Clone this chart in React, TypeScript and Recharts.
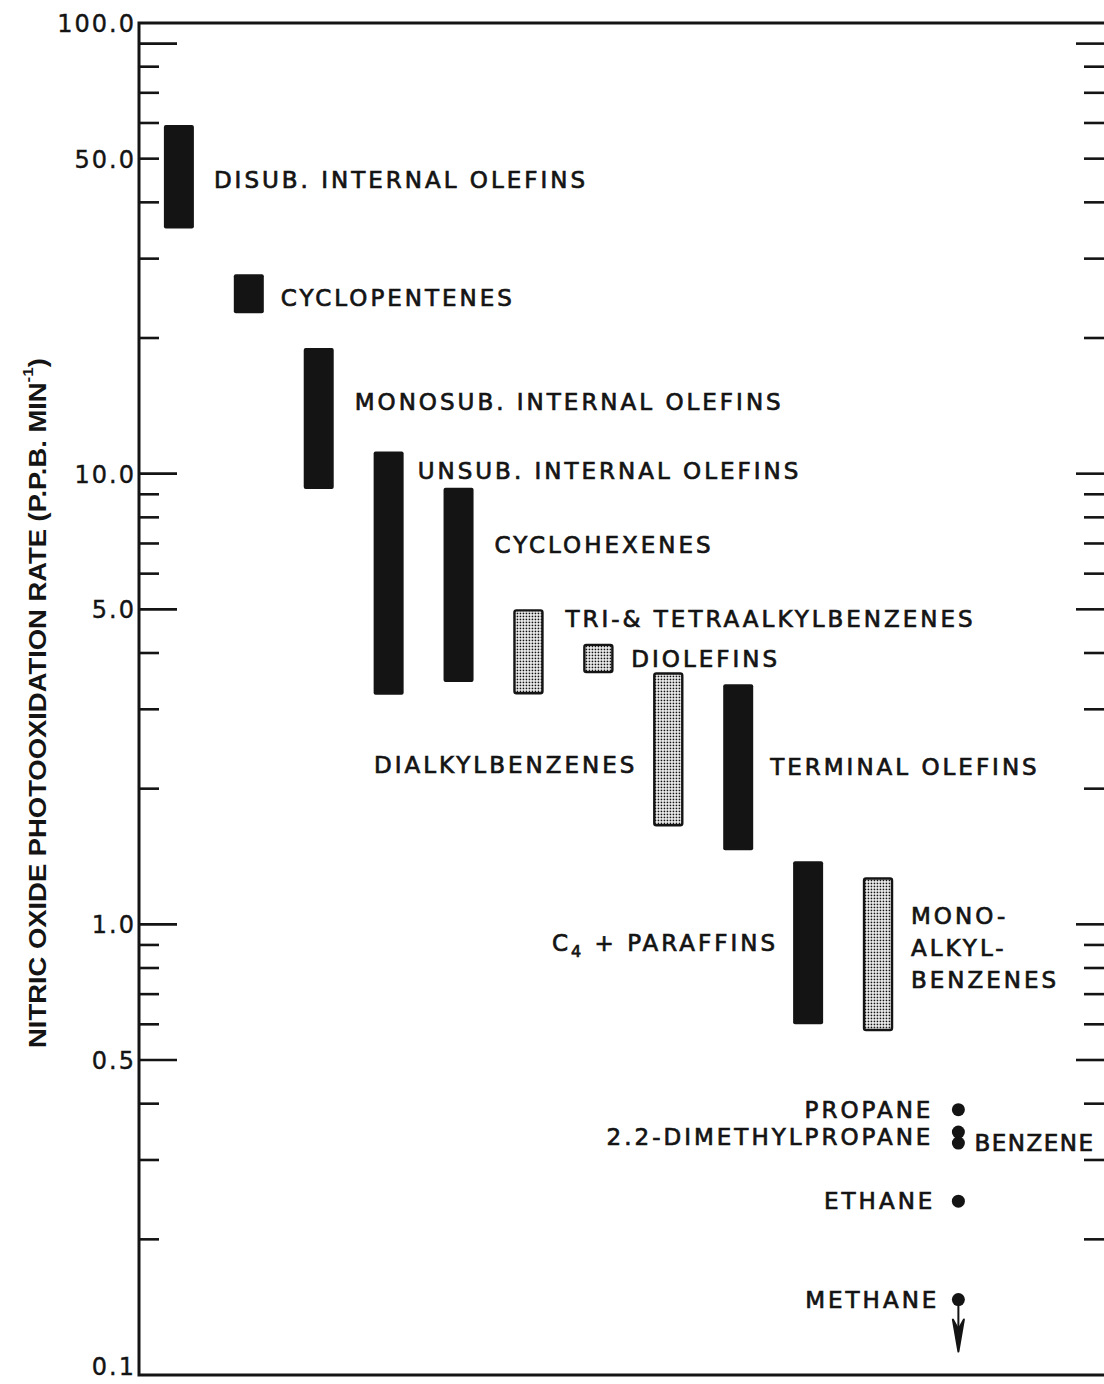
import React from 'react';
import { ComposedChart, Bar, Scatter, XAxis, YAxis, ReferenceArea } from 'recharts';

// Hydrocarbon classes: column position, rate range (p.p.b./min) and bar style
const groupNames = [
  'DISUB. INTERNAL OLEFINS',
  'CYCLOPENTENES',
  'MONOSUB. INTERNAL OLEFINS',
  'UNSUB. INTERNAL OLEFINS',
  'CYCLOHEXENES',
  'TRI-& TETRAALKYLBENZENES',
  'DIOLEFINS',
  'DIALKYLBENZENES',
  'TERMINAL OLEFINS',
  'C4 + PARAFFINS',
  'MONO-ALKYL-BENZENES',
];
const groupColumns = [1, 2, 3, 4, 5, 6, 7, 8, 9, 10, 11];
const groupLow = [35, 22.7, 9.25, 3.23, 3.45, 3.24, 3.61, 1.65, 1.46, 0.6, 0.58];
const groupHigh = [59.4, 27.7, 19.0, 11.2, 9.3, 5.0, 4.19, 3.62, 3.41, 1.38, 1.27];
const groupKinds = ['solid', 'solid', 'solid', 'solid', 'solid', 'dotted', 'dotted', 'dotted', 'solid', 'solid', 'dotted'];

// Individual compounds plotted as points
const compoundNames = ['PROPANE', '2.2-DIMETHYLPROPANE', 'BENZENE', 'ETHANE', 'METHANE'];
const compoundRates = [0.388, 0.346, 0.327, 0.243, 0.147];
const compoundUpperLimit = [false, false, false, false, true];
const compoundColumn = 12.15;

// Log axis ticks
const yTicks = [
  0.1, 0.2, 0.3, 0.4, 0.5, 0.6, 0.7, 0.8, 0.9,
  1, 2, 3, 4, 5, 6, 7, 8, 9,
  10, 20, 30, 40, 50, 60, 70, 80, 90, 100,
];
const yTickLabels: Record<string, string> = {
  '100': '100.0', '50': '50.0', '10': '10.0', '5': '5.0', '1': '1.0', '0.5': '0.5', '0.1': '0.1',
};
const longTicks = [90, 10, 5, 1, 0.5];

const X_DOMAIN: [number, number] = [0.43, 14.29];
const Y_DOMAIN: [number, number] = [0.1, 100];

const INK = '#141414';
const FONT = '"DejaVu Sans", sans-serif';
const LABEL_SIZE = 23;
const LABEL_SPACING = 3.0;

const labelStyle = {
  fontFamily: FONT,
  fontSize: LABEL_SIZE,
  letterSpacing: LABEL_SPACING,
  fill: INK,
  stroke: INK,
  strokeWidth: 0.7,
};

type Layout = { side: 'left' | 'right'; at: 'top' | 'center'; dx: number; dy: number; lines?: string[] };

const groupLabelLayout: Record<string, Layout> = {
  'DISUB. INTERNAL OLEFINS': { side: 'right', at: 'center', dx: 20, dy: 3 },
  'CYCLOPENTENES': { side: 'right', at: 'center', dx: 17, dy: 4 },
  'MONOSUB. INTERNAL OLEFINS': { side: 'right', at: 'center', dx: 21, dy: -16 },
  'UNSUB. INTERNAL OLEFINS': { side: 'right', at: 'top', dx: 14, dy: 20 },
  'CYCLOHEXENES': { side: 'right', at: 'top', dx: 21, dy: 57 },
  'TRI-& TETRAALKYLBENZENES': { side: 'right', at: 'top', dx: 22, dy: 10 },
  'DIOLEFINS': { side: 'right', at: 'center', dx: 18, dy: 0 },
  'DIALKYLBENZENES': { side: 'left', at: 'center', dx: 19, dy: 16 },
  'TERMINAL OLEFINS': { side: 'right', at: 'center', dx: 17, dy: 0 },
  'C4 + PARAFFINS': { side: 'left', at: 'center', dx: 18, dy: 0 },
  'MONO-ALKYL-BENZENES': { side: 'right', at: 'center', dx: 18, dy: -6, lines: ['MONO-', 'ALKYL-', 'BENZENES'] },
};

const compoundLabelLayout: Record<string, { side: 'left' | 'right'; dx: number; dy: number; spacing?: number }> = {
  'PROPANE': { side: 'left', dx: 28, dy: 0 },
  '2.2-DIMETHYLPROPANE': { side: 'left', dx: 28, dy: 5 },
  'BENZENE': { side: 'right', dx: 16, dy: 0, spacing: 1.5 },
  'ETHANE': { side: 'left', dx: 26, dy: 0 },
  'METHANE': { side: 'left', dx: 22, dy: 0 },
};

const groupRows = groupNames.map((name, i) => ({
  name,
  pos: groupColumns[i],
  range: [groupLow[i], groupHigh[i]],
  kind: groupKinds[i],
}));

const compoundRows = compoundNames.map((name, i) => ({
  name,
  pos: compoundColumn,
  rate: compoundRates[i],
  upperLimit: compoundUpperLimit[i],
}));

const labelText = (name: string) => {
  if (name.startsWith('C4')) {
    return [
      <tspan key="c">C</tspan>,
      <tspan key="s" dy={6} fontSize={16}>4</tspan>,
      <tspan key="r" dy={-6}>{name.slice(2)}</tspan>,
    ];
  }
  return name;
};

const GroupBar = (props: any) => {
  const { x, y, width, height, payload } = props;
  if (x == null || y == null) return null;
  const layout = groupLabelLayout[payload.name];
  const dotted = payload.kind === 'dotted';
  const anchorY = (layout.at === 'top' ? y : y + height / 2) + layout.dy;
  const tx = layout.side === 'right' ? x + width + layout.dx : x - layout.dx + LABEL_SPACING;
  const anchor = layout.side === 'right' ? 'start' : 'end';
  const lines = layout.lines;
  return (
    <g>
      <rect
        x={dotted ? x + 1 : x}
        y={dotted ? y + 1 : y}
        width={dotted ? width - 2 : width}
        height={dotted ? height - 2 : height}
        rx={2}
        fill={dotted ? 'url(#dotScreen)' : INK}
        stroke={dotted ? INK : 'none'}
        strokeWidth={2.4}
      />
      {lines ? (
        lines.map((ln, k) => (
          <text key={ln} x={tx} y={anchorY + (k - (lines.length - 1) / 2) * 32 + 8} textAnchor={anchor} {...labelStyle}>
            {ln}
          </text>
        ))
      ) : (
        <text x={tx} y={anchorY + 8} textAnchor={anchor} {...labelStyle}>
          {labelText(payload.name)}
        </text>
      )}
    </g>
  );
};

const CompoundPoint = (props: any) => {
  const { cx, cy, payload } = props;
  if (cx == null || cy == null) return null;
  const layout = compoundLabelLayout[payload.name];
  const spacing = layout.spacing ?? LABEL_SPACING;
  const tx = layout.side === 'right' ? cx + layout.dx : cx - layout.dx + spacing;
  return (
    <g>
      {payload.upperLimit && (
        <g stroke={INK} strokeWidth={2} fill={INK}>
          <line x1={cx} y1={cy} x2={cx} y2={cy + 48} />
          <path d={`M${cx - 5.5},${cy + 20} L${cx},${cy + 52} L${cx + 5.5},${cy + 20} L${cx},${cy + 30} Z`} strokeLinejoin="round" />
        </g>
      )}
      <circle cx={cx} cy={cy} r={6.5} fill={INK} />
      <text
        x={tx}
        y={cy + layout.dy + 8}
        textAnchor={layout.side === 'right' ? 'start' : 'end'}
        {...labelStyle}
        letterSpacing={spacing}
      >
        {payload.name}
      </text>
    </g>
  );
};

const LeftTick = (props: any) => {
  const { x, y, payload } = props;
  const v = payload.value;
  const label = yTickLabels[String(v)];
  const isEdge = v === 100 || v === 0.1;
  const len = longTicks.includes(v) ? 38 : 20;
  return (
    <g>
      {!isEdge && <line x1={x} y1={y} x2={x + len} y2={y} stroke={INK} strokeWidth={2.6} />}
      {label && (
        <text
          x={x - 3}
          y={y + (v === 0.1 ? 0 : 9)}
          textAnchor="end"
          fontFamily={FONT}
          fontSize={24}
          letterSpacing={2}
          fill={INK}
          stroke={INK}
          strokeWidth={0.4}
        >
          {label}
        </text>
      )}
    </g>
  );
};

const RightTick = (props: any) => {
  const { x, y, payload } = props;
  const v = payload.value;
  if (v === 100 || v === 0.1) return null;
  const len = longTicks.includes(v) ? 32 : 24;
  return <line x1={x} y1={y} x2={x - len} y2={y} stroke={INK} strokeWidth={2.6} />;
};

const AxisTitle = (props: any) => {
  const vb = props.viewBox || { x: 0, y: 0, width: 0, height: 0 };
  const cx = 37;
  const cy = vb.y + vb.height / 2 + 4;
  return (
    <text
      x={cx}
      y={cy}
      transform={`rotate(-90 ${cx} ${cy})`}
      textAnchor="middle"
      dominantBaseline="central"
      fontFamily='"Liberation Sans", Arial, sans-serif'
      fontWeight="bold"
      fontSize={24}
      textLength={690}
      lengthAdjust="spacingAndGlyphs"
      fill={INK}
    >
      NITRIC OXIDE PHOTOOXIDATION RATE (P.P.B. MIN
      <tspan dy={-10} fontSize={15}>-1</tspan>
      <tspan dy={10}>)</tspan>
    </text>
  );
};

export default function App() {
  return (
    <div style={{ position: 'fixed', left: 0, top: 0, width: 1104, height: 1384, overflow: 'hidden', background: '#fff' }}>
      <ComposedChart
        width={1130}
        height={1384}
        data={groupRows}
        margin={{ top: 23, right: 0, bottom: 9, left: 0 }}
      >
        <defs>
          <pattern id="dotScreen" patternUnits="userSpaceOnUse" width={3} height={3}>
            <rect x={0} y={0} width={3} height={3} fill="#fff" />
            <rect x={0.6} y={0.6} width={1.7} height={1.7} fill="#111" />
          </pattern>
        </defs>
        <XAxis dataKey="pos" type="number" domain={X_DOMAIN} allowDataOverflow hide />
        <YAxis
          yAxisId="left"
          type="number"
          scale="log"
          domain={Y_DOMAIN}
          allowDataOverflow
          ticks={yTicks}
          interval={0}
          width={139}
          axisLine={false}
          tickLine={false}
          tickSize={0}
          tickMargin={0}
          tick={<LeftTick />}
          label={{ content: <AxisTitle /> }}
        />
        <YAxis
          yAxisId="right"
          orientation="right"
          type="number"
          scale="log"
          domain={Y_DOMAIN}
          allowDataOverflow
          ticks={yTicks}
          interval={0}
          width={22}
          axisLine={false}
          tickLine={false}
          tickSize={0}
          tickMargin={0}
          tick={<RightTick />}
        />
        <ReferenceArea
          yAxisId="left"
          x1={X_DOMAIN[0]}
          x2={X_DOMAIN[1]}
          y1={Y_DOMAIN[0]}
          y2={Y_DOMAIN[1]}
          fill="none"
          fillOpacity={0}
          stroke={INK}
          strokeWidth={3}
          ifOverflow="visible"
        />
        <Bar yAxisId="left" dataKey="range" barSize={30} isAnimationActive={false} shape={<GroupBar />} />
        <Scatter
          yAxisId="left"
          data={compoundRows}
          dataKey="rate"
          isAnimationActive={false}
          shape={<CompoundPoint />}
        />
      </ComposedChart>
    </div>
  );
}
